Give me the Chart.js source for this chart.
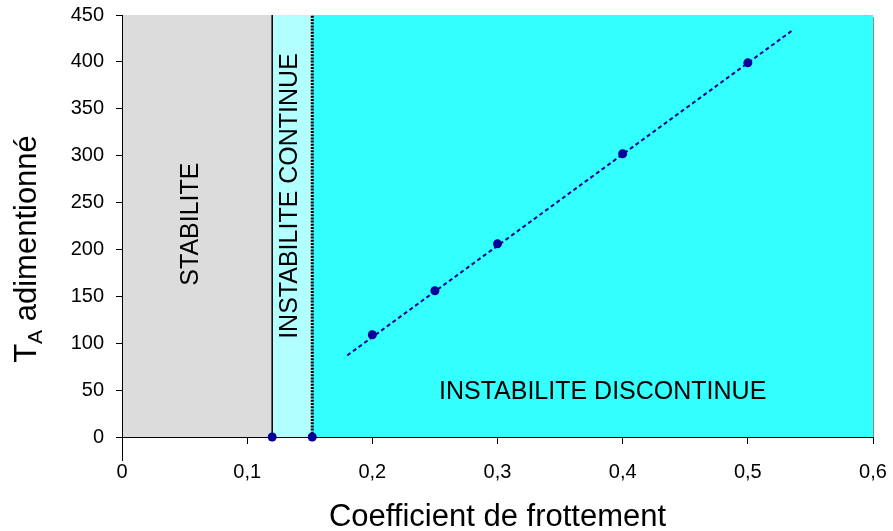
<!DOCTYPE html>
<html>
<head>
<meta charset="utf-8">
<script src="https://cdn.jsdelivr.net/npm/chart.js@4.4.1/dist/chart.umd.min.js"></script>
<style>
  html, body { margin: 0; padding: 0; background: #ffffff; }
  #wrap { width: 893px; height: 531px; position: relative; }
</style>
</head>
<body>
<div id="wrap"><canvas id="c" width="893" height="531"></canvas></div>
<script>
// ---- data ----
const frictionCoef = [0.12, 0.152, 0.2, 0.25, 0.3, 0.4, 0.5];
const tAdim = [0, 0, 109, 156, 206, 302, 399];
const trendX = [0.18, 0.535];
const trendY = [87, 433];
const zoneBounds = [0, 0.12, 0.152, 0.6];
const zoneNames = ["STABILITE", "INSTABILITE CONTINUE", "INSTABILITE DISCONTINUE"];
const solidLimitX = [0.12, 0.12];
const dottedLimitX = [0.152, 0.152];
const limitY = [0, 450];
const xTicks = [0, 0.1, 0.2, 0.3, 0.4, 0.5, 0.6];
const yTicks = [0, 50, 100, 150, 200, 250, 300, 350, 400, 450];
const xTitle = "Coefficient de frottement";
const yTitleMain = "T";
const yTitleSub = "A";
const yTitleRest = " adimentionné";

const FONT = '"Liberation Sans", Arial, Helvetica, sans-serif';
const zoneColors = ["#dcdcdc", "#b2ffff", "#33ffff"];

const pts = frictionCoef.map((x, i) => ({ x, y: tAdim[i] }));
const trend = trendX.map((x, i) => ({ x, y: trendY[i] }));
const solidLine = solidLimitX.map((x, i) => ({ x, y: limitY[i] }));
const dottedLine = dottedLimitX.map((x, i) => ({ x, y: limitY[i] }));

const fmt = v => (v === 0 ? "0" : String(Math.round(v * 10) / 10).replace(".", ","));
const noPad = s => { s.paddingTop = 0; s.paddingBottom = 0; s.paddingLeft = 0; s.paddingRight = 0; };

const zonesPlugin = {
  id: "zones",
  beforeDraw(chart) {
    const { ctx, scales: { x, y } } = chart;
    ctx.save();
    for (let i = 0; i < zoneColors.length; i++) {
      const x0 = x.getPixelForValue(zoneBounds[i]);
      const x1 = x.getPixelForValue(zoneBounds[i + 1]);
      const yTop = y.getPixelForValue(y.max);
      const yBot = y.getPixelForValue(y.min);
      ctx.fillStyle = zoneColors[i];
      ctx.fillRect(x0, yTop, x1 - x0, yBot - yTop);
    }
    const xr = x.getPixelForValue(x.max);
    ctx.strokeStyle = "#8c8c8c";
    ctx.lineWidth = 1;
    ctx.beginPath();
    ctx.moveTo(xr + 0.5, y.getPixelForValue(y.max) + 2);
    ctx.lineTo(xr + 0.5, y.getPixelForValue(y.min));
    ctx.stroke();
    ctx.restore();
  }
};

const labelsPlugin = {
  id: "labelsTitles",
  afterDatasetsDraw(chart) {
    const { ctx, scales: { x, y } } = chart;
    ctx.save();
    ctx.fillStyle = "#000";
    ctx.font = "25px " + FONT;
    ctx.textAlign = "center";
    ctx.textBaseline = "middle";
    ctx.save();
    ctx.translate(x.getPixelForValue(0.0556), y.getPixelForValue(227));
    ctx.rotate(-Math.PI / 2);
    ctx.fillText(zoneNames[0], 0, 0);
    ctx.restore();
    ctx.save();
    ctx.translate(x.getPixelForValue(0.1345), y.getPixelForValue(257));
    ctx.rotate(-Math.PI / 2);
    ctx.fillText(zoneNames[1], 0, 0);
    ctx.restore();
    ctx.fillText(zoneNames[2], x.getPixelForValue(0.384), y.getPixelForValue(48));

    const x0 = x.getPixelForValue(0);
    ctx.strokeStyle = "#000";
    ctx.lineWidth = 1;
    ctx.beginPath();
    ctx.moveTo(x0 + 0.5, y.getPixelForValue(0));
    ctx.lineTo(x0 + 0.5, y.getPixelForValue(0) + 24);
    ctx.stroke();

    ctx.font = "31px " + FONT;
    ctx.textAlign = "center";
    ctx.textBaseline = "alphabetic";
    ctx.fillText(xTitle, (chart.chartArea.left + chart.chartArea.right) / 2, 526);

    const big = "31px " + FONT, small = "21px " + FONT;
    ctx.font = big; const wT = ctx.measureText(yTitleMain).width;
    const wR = ctx.measureText(yTitleRest).width;
    ctx.font = small; const wA = ctx.measureText(yTitleSub).width;
    const total = wT + wA + wR;
    ctx.save();
    ctx.translate(36, 249);
    ctx.rotate(-Math.PI / 2);
    ctx.textAlign = "left";
    let cx = -total / 2;
    ctx.font = big; ctx.fillText(yTitleMain, cx, 0); cx += wT;
    ctx.font = small; ctx.fillText(yTitleSub, cx, 6); cx += wA;
    ctx.font = big; ctx.fillText(yTitleRest, cx, 0);
    ctx.restore();
    ctx.restore();
  }
};

new Chart(document.getElementById("c"), {
  type: "scatter",
  data: {
    datasets: [
      { type: "line", data: solidLine, borderColor: "#000", borderWidth: 1.5, pointRadius: 0, fill: false, clip: false, order: 4 },
      { type: "line", data: dottedLine, borderColor: "#000", borderWidth: 3, borderDash: [2, 1.2], pointRadius: 0, fill: false, clip: false, order: 3 },
      { type: "line", data: trend, borderColor: "#000099", borderWidth: 2, borderDash: [4, 3], pointRadius: 0, fill: false, order: 2 },
      { data: pts, backgroundColor: "#000099", borderColor: "#000099", pointRadius: 4.5, pointHoverRadius: 4.5, borderWidth: 0, clip: false, order: 1 }
    ]
  },
  options: {
    responsive: false,
    animation: false,
    events: [],
    layout: { padding: { left: 0, right: 20, top: 15, bottom: 0 } },
    plugins: { legend: { display: false }, tooltip: { enabled: false } },
    scales: {
      x: {
        type: "linear", min: 0, max: 0.6,
        afterBuildTicks: s => { s.ticks = xTicks.map(v => ({ value: v })); },
        afterFit: s => { s.height = 94; noPad(s); },
        grid: { display: true, drawOnChartArea: false, drawTicks: true, tickLength: 7, color: "#000", lineWidth: 1 },
        border: { display: true, color: "#000", width: 1 },
        ticks: { color: "#000", font: { family: FONT, size: 20 }, padding: 16, maxRotation: 0, autoSkip: false, callback: v => fmt(v) }
      },
      y: {
        type: "linear", min: 0, max: 450,
        afterBuildTicks: s => { s.ticks = yTicks.map(v => ({ value: v })); },
        afterFit: s => { s.width = 122; noPad(s); },
        grid: { display: true, drawOnChartArea: false, drawTicks: true, tickLength: 6, color: "#000", lineWidth: 1 },
        border: { display: true, color: "#000", width: 1 },
        ticks: { color: "#000", font: { family: FONT, size: 20 }, padding: 12, autoSkip: false, callback: v => String(v) }
      }
    }
  },
  plugins: [zonesPlugin, labelsPlugin]
});
</script>
</body>
</html>
